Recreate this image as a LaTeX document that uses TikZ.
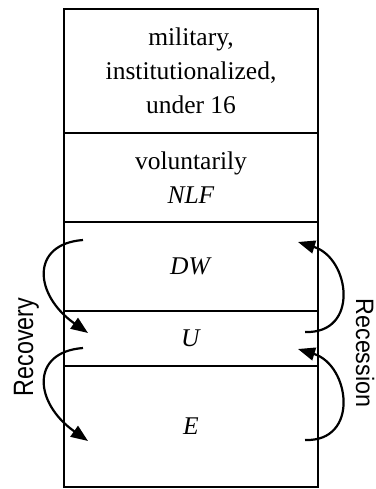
\documentclass[tikz,border=0pt]{standalone}
\usepackage{fontspec}
\setmainfont{Liberation Serif}
\newfontfamily\labelfont{Liberation Sans}
\usetikzlibrary{arrows.meta}
\begin{document}
\begin{tikzpicture}[x=1pt,y=-1pt,
  row/.style={draw, line width=2pt, minimum width=254pt, inner sep=0pt, align=center,
    font=\fontsize{25.5}{34}\selectfont},
  flow/.style={line width=2.2pt, -{Triangle[length=17pt,width=13pt]}},
  side/.style={font=\labelfont\fontsize{23.3}{28}\selectfont, anchor=base, inner sep=0pt}]
\useasboundingbox (0,0) rectangle (375,489);
% stacked rows
\node[row, minimum height=124pt] (top) at (191,71) {military,\\institutionalized,\\under 16};
\node[row, minimum height=89pt] (vol) at (191,177.5) {voluntarily\\\textit{NLF}};
\node[row, minimum height=89pt] (dw) at (191,266.5) {\textit{DW}};
\node[row, minimum height=55pt] (u) at (191,338.5) {\textit{U}};
\node[row, minimum height=121pt] (e) at (191,426.5) {\textit{E}};
% arc end points
\coordinate (l1s) at (83,240);
\coordinate (l1e) at (88,333);
\coordinate (l2s) at (83,348);
\coordinate (l2e) at (88,441);
\coordinate (r1s) at (305,332);
\coordinate (r1e) at (298,242);
\coordinate (r2s) at (305,440);
\coordinate (r2e) at (298,349);
% recovery arcs
\draw[flow] (l1s) .. controls (30,244) and (34,295) .. (l1e);
\draw[flow] (l2s) .. controls (30,352) and (34,403) .. (l2e);
% recession arcs
\draw[flow] (r1s) .. controls (360,334) and (350,258) .. (r1e);
\draw[flow] (r2s) .. controls (360,442) and (350,365) .. (r2e);
% side labels
\node[side, rotate=90] (rec) at (33,347) {\scalebox{1}[1.2]{Recovery}};
\node[side, rotate=-90] (ces) at (356,353) {\scalebox{1}[1.08]{Recession}};
\end{tikzpicture}
\end{document}
